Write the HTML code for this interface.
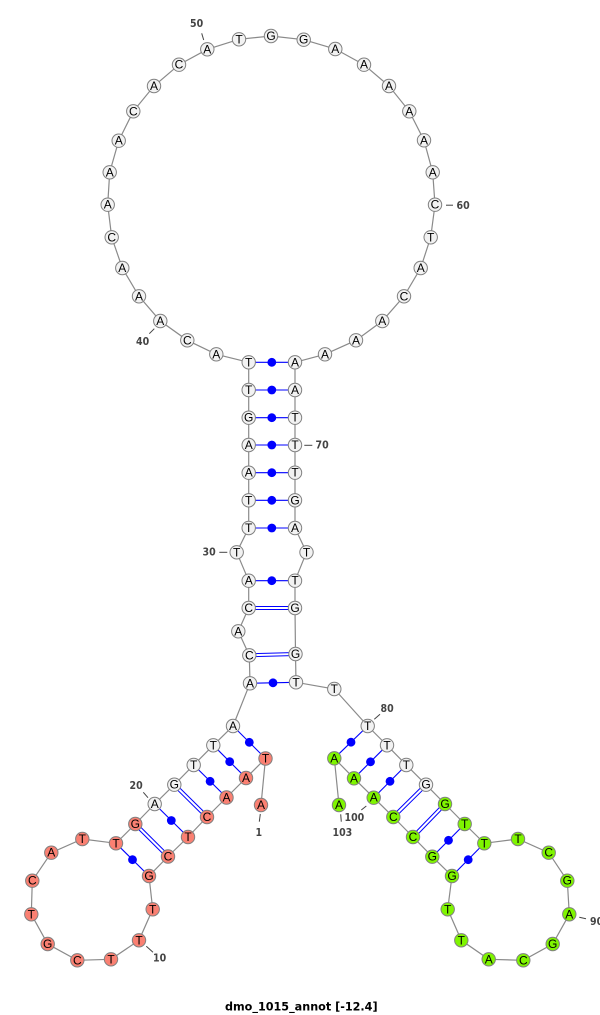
<!DOCTYPE html>
<html>
<head>
<meta charset="utf-8">
<style>
html,body{margin:0;padding:0;background:#fff;width:600px;height:1015px;overflow:hidden}
svg{display:block}
.b{fill:none;stroke:#8a8a8a;stroke-width:1.2}
.p{stroke:#0000ff;stroke-width:1.1;fill:none}
.d{stroke:#0000ff;stroke-width:1;fill:none}
.dot{fill:#0000ff}
.n circle{stroke:#808080;stroke-width:1}
.w circle{fill:#f2f2f2}
.r circle{fill:#fa8072}
.g circle{fill:#7ff500}
.n text{font-family:"Liberation Sans",sans-serif;font-size:12px;fill:#000;text-anchor:middle}
.t{stroke:#444;stroke-width:1;fill:none}
.l{font-family:"DejaVu Sans Condensed","DejaVu Sans",sans-serif;font-weight:bold;font-size:10.5px;fill:#444}
.title{font-family:"DejaVu Sans",sans-serif;font-weight:bold;font-size:11.2px;fill:#000}
</style>
</head>
<body>
<svg width="600" height="1015" viewBox="0 0 600 1015" xmlns="http://www.w3.org/2000/svg">
<polyline class="b" points="261,805 265.5,758.5 246,778 226.5,797.5 207,817 188,837 168,856.5 149,876 152.7,909.3 139,940.3 111,959.3 77.3,960.3 47.7,944 31.3,914.3 32.3,880.7 51.3,852.7 82.3,839 116,843.3 135.3,824 154.7,804 174.3,784.7 193.7,765 213.3,745.3 233,726 250,683.3 249.3,655.3 238.3,631.3 248.7,608 248.7,580.7 236.7,552.3 248.7,528 248.7,500.3 248.7,472.7 248.7,445 248.7,417.7 248.7,390 248.7,362.3 216.3,354.3 187.3,340.3 160.3,321 139,296.3 122.3,268 111.7,237.3 107.7,204.7 109.7,172.3 118.7,140.7 133.3,111.3 154,86 179,64.7 207.3,49.3 239,39.3 271,36 303.7,39.7 335.3,49 364,64.7 389,86 409.3,111.3 424,140.3 432.7,172.3 435,204.7 430.7,237.3 420.7,268 404,296.3 382.3,321 356,340.3 325,354.3 295,362.3 295,390 295,417.7 295,445 295,472.7 295,500.3 295,528 306.5,552.3 295,580.7 295,608 295.5,654 296,682.3 334.3,689 367.7,726 387,745.3 406.3,765 426,784.7 445,804 464.7,824 484.3,843.3 518,839 548.7,852.7 567.3,880.7 569.3,914.3 552.7,944 523.3,960.3 488.7,959.3 461.3,940.3 447.7,909.3 452,876 432.3,856.7 413,837 393.3,817 373.7,797.7 354,778.3 334.3,758.3 339,805"/>

<!-- single pairs -->
<g class="p">
<line x1="265.5" y1="758.5" x2="233" y2="726"/>
<line x1="246" y1="778" x2="213.3" y2="745.3"/>
<line x1="226.5" y1="797.5" x2="193.7" y2="765"/>
<line x1="188" y1="837" x2="154.7" y2="804"/>
<line x1="149" y1="876" x2="116" y2="843.3"/>
<line x1="250" y1="683.3" x2="296" y2="682.3"/>
<line x1="248.7" y1="580.7" x2="295" y2="580.7"/>
<line x1="248.7" y1="528" x2="295" y2="528"/>
<line x1="248.7" y1="500.3" x2="295" y2="500.3"/>
<line x1="248.7" y1="472.7" x2="295" y2="472.7"/>
<line x1="248.7" y1="445" x2="295" y2="445"/>
<line x1="248.7" y1="417.7" x2="295" y2="417.7"/>
<line x1="248.7" y1="390" x2="295" y2="390"/>
<line x1="248.7" y1="362.3" x2="295" y2="362.3"/>
<line x1="367.7" y1="726" x2="334.3" y2="758.3"/>
<line x1="387" y1="745.3" x2="354" y2="778.3"/>
<line x1="406.3" y1="765" x2="373.7" y2="797.7"/>
<line x1="464.7" y1="824" x2="432.3" y2="856.7"/>
<line x1="484.3" y1="843.3" x2="452" y2="876"/>
</g>
<!-- double pairs -->
<g class="d">
<line x1="208.1" y1="815.9" x2="175.4" y2="783.6"/>
<line x1="205.9" y1="818.1" x2="173.2" y2="785.8"/>
<line x1="169.1" y1="855.4" x2="136.4" y2="822.9"/>
<line x1="166.9" y1="857.6" x2="134.2" y2="825.1"/>
<line x1="249.3" y1="653.8" x2="295.5" y2="652.5"/>
<line x1="249.3" y1="656.8" x2="295.5" y2="655.5"/>
<line x1="248.7" y1="606.5" x2="295" y2="606.5"/>
<line x1="248.7" y1="609.5" x2="295" y2="609.5"/>
<line x1="394.4" y1="818.1" x2="427.1" y2="785.8"/>
<line x1="392.2" y1="815.9" x2="424.9" y2="783.6"/>
<line x1="414.1" y1="838.1" x2="446.1" y2="805.1"/>
<line x1="411.9" y1="835.9" x2="443.9" y2="802.9"/>
</g>
<g class="dot">
<circle cx="249.3" cy="742.3" r="4.4"/>
<circle cx="229.7" cy="761.7" r="4.4"/>
<circle cx="210.1" cy="781.3" r="4.4"/>
<circle cx="171.3" cy="820.5" r="4.4"/>
<circle cx="132.5" cy="859.7" r="4.4"/>
<circle cx="273" cy="682.8" r="4.4"/>
<circle cx="271.8" cy="580.7" r="4.4"/>
<circle cx="271.8" cy="528" r="4.4"/>
<circle cx="271.8" cy="500.3" r="4.4"/>
<circle cx="271.8" cy="472.7" r="4.4"/>
<circle cx="271.8" cy="445" r="4.4"/>
<circle cx="271.8" cy="417.7" r="4.4"/>
<circle cx="271.8" cy="390" r="4.4"/>
<circle cx="271.8" cy="362.3" r="4.4"/>
<circle cx="351" cy="742.2" r="4.4"/>
<circle cx="370.5" cy="761.8" r="4.4"/>
<circle cx="390" cy="781.3" r="4.4"/>
<circle cx="448.5" cy="840.3" r="4.4"/>
<circle cx="468.2" cy="859.7" r="4.4"/>
</g>

<!-- red nodes -->
<g class="n r">
<circle cx="261" cy="805" r="6.7"/><text x="261" y="809">A</text>
<circle cx="265.5" cy="758.5" r="6.7"/><text x="265.5" y="762.5">T</text>
<circle cx="246" cy="778" r="6.7"/><text x="246" y="782">A</text>
<circle cx="226.5" cy="797.5" r="6.7"/><text x="226.5" y="801.5">A</text>
<circle cx="207" cy="817" r="6.7"/><text x="207" y="821">C</text>
<circle cx="188" cy="837" r="6.7"/><text x="188" y="841">T</text>
<circle cx="168" cy="856.5" r="6.7"/><text x="168" y="860.5">C</text>
<circle cx="149" cy="876" r="6.7"/><text x="149" y="880">G</text>
<circle cx="152.7" cy="909.3" r="6.7"/><text x="152.7" y="913.3">T</text>
<circle cx="139" cy="940.3" r="6.7"/><text x="139" y="944.3">T</text>
<circle cx="111" cy="959.3" r="6.7"/><text x="111" y="963.3">T</text>
<circle cx="77.3" cy="960.3" r="6.7"/><text x="77.3" y="964.3">C</text>
<circle cx="47.7" cy="944" r="6.7"/><text x="47.7" y="948">G</text>
<circle cx="31.3" cy="914.3" r="6.7"/><text x="31.3" y="918.3">T</text>
<circle cx="32.3" cy="880.7" r="6.7"/><text x="32.3" y="884.7">C</text>
<circle cx="51.3" cy="852.7" r="6.7"/><text x="51.3" y="856.7">A</text>
<circle cx="82.3" cy="839" r="6.7"/><text x="82.3" y="843">T</text>
<circle cx="116" cy="843.3" r="6.7"/><text x="116" y="847.3">T</text>
<circle cx="135.3" cy="824" r="6.7"/><text x="135.3" y="828">G</text>
</g>

<!-- white nodes -->
<g class="n w">
<circle cx="154.7" cy="804" r="6.7"/><text x="154.7" y="808">A</text>
<circle cx="174.3" cy="784.7" r="6.7"/><text x="174.3" y="788.7">G</text>
<circle cx="193.7" cy="765" r="6.7"/><text x="193.7" y="769">T</text>
<circle cx="213.3" cy="745.3" r="6.7"/><text x="213.3" y="749.3">T</text>
<circle cx="233" cy="726" r="6.7"/><text x="233" y="730">A</text>
<circle cx="250" cy="683.3" r="6.7"/><text x="250" y="687.3">A</text>
<circle cx="249.3" cy="655.3" r="6.7"/><text x="249.3" y="659.3">C</text>
<circle cx="238.3" cy="631.3" r="6.7"/><text x="238.3" y="635.3">A</text>
<circle cx="248.7" cy="608" r="6.7"/><text x="248.7" y="612">C</text>
<circle cx="248.7" cy="580.7" r="6.7"/><text x="248.7" y="584.7">A</text>
<circle cx="236.7" cy="552.3" r="6.7"/><text x="236.7" y="556.3">T</text>
<circle cx="248.7" cy="528" r="6.7"/><text x="248.7" y="532">T</text>
<circle cx="248.7" cy="500.3" r="6.7"/><text x="248.7" y="504.3">T</text>
<circle cx="248.7" cy="472.7" r="6.7"/><text x="248.7" y="476.7">A</text>
<circle cx="248.7" cy="445" r="6.7"/><text x="248.7" y="449">A</text>
<circle cx="248.7" cy="417.7" r="6.7"/><text x="248.7" y="421.7">G</text>
<circle cx="248.7" cy="390" r="6.7"/><text x="248.7" y="394">T</text>
<circle cx="248.7" cy="362.3" r="6.7"/><text x="248.7" y="366.3">T</text>
<circle cx="216.3" cy="354.3" r="6.7"/><text x="216.3" y="358.3">A</text>
<circle cx="187.3" cy="340.3" r="6.7"/><text x="187.3" y="344.3">C</text>
<circle cx="160.3" cy="321" r="6.7"/><text x="160.3" y="325">A</text>
<circle cx="139" cy="296.3" r="6.7"/><text x="139" y="300.3">A</text>
<circle cx="122.3" cy="268" r="6.7"/><text x="122.3" y="272">A</text>
<circle cx="111.7" cy="237.3" r="6.7"/><text x="111.7" y="241.3">C</text>
<circle cx="107.7" cy="204.7" r="6.7"/><text x="107.7" y="208.7">A</text>
<circle cx="109.7" cy="172.3" r="6.7"/><text x="109.7" y="176.3">A</text>
<circle cx="118.7" cy="140.7" r="6.7"/><text x="118.7" y="144.7">A</text>
<circle cx="133.3" cy="111.3" r="6.7"/><text x="133.3" y="115.3">C</text>
<circle cx="154" cy="86" r="6.7"/><text x="154" y="90">A</text>
<circle cx="179" cy="64.7" r="6.7"/><text x="179" y="68.7">C</text>
<circle cx="207.3" cy="49.3" r="6.7"/><text x="207.3" y="53.3">A</text>
<circle cx="239" cy="39.3" r="6.7"/><text x="239" y="43.3">T</text>
<circle cx="271" cy="36" r="6.7"/><text x="271" y="40">G</text>
<circle cx="303.7" cy="39.7" r="6.7"/><text x="303.7" y="43.7">G</text>
<circle cx="335.3" cy="49" r="6.7"/><text x="335.3" y="53">A</text>
<circle cx="364" cy="64.7" r="6.7"/><text x="364" y="68.7">A</text>
<circle cx="389" cy="86" r="6.7"/><text x="389" y="90">A</text>
<circle cx="409.3" cy="111.3" r="6.7"/><text x="409.3" y="115.3">A</text>
<circle cx="424" cy="140.3" r="6.7"/><text x="424" y="144.3">A</text>
<circle cx="432.7" cy="172.3" r="6.7"/><text x="432.7" y="176.3">A</text>
<circle cx="435" cy="204.7" r="6.7"/><text x="435" y="208.7">C</text>
<circle cx="430.7" cy="237.3" r="6.7"/><text x="430.7" y="241.3">T</text>
<circle cx="420.7" cy="268" r="6.7"/><text x="420.7" y="272">A</text>
<circle cx="404" cy="296.3" r="6.7"/><text x="404" y="300.3">C</text>
<circle cx="382.3" cy="321" r="6.7"/><text x="382.3" y="325">A</text>
<circle cx="356" cy="340.3" r="6.7"/><text x="356" y="344.3">A</text>
<circle cx="325" cy="354.3" r="6.7"/><text x="325" y="358.3">A</text>
<circle cx="295" cy="362.3" r="6.7"/><text x="295" y="366.3">A</text>
<circle cx="295" cy="390" r="6.7"/><text x="295" y="394">A</text>
<circle cx="295" cy="417.7" r="6.7"/><text x="295" y="421.7">T</text>
<circle cx="295" cy="445" r="6.7"/><text x="295" y="449">T</text>
<circle cx="295" cy="472.7" r="6.7"/><text x="295" y="476.7">T</text>
<circle cx="295" cy="500.3" r="6.7"/><text x="295" y="504.3">G</text>
<circle cx="295" cy="528" r="6.7"/><text x="295" y="532">A</text>
<circle cx="306.5" cy="552.3" r="6.7"/><text x="306.5" y="556.3">T</text>
<circle cx="295" cy="580.7" r="6.7"/><text x="295" y="584.7">T</text>
<circle cx="295" cy="608" r="6.7"/><text x="295" y="612">G</text>
<circle cx="295.5" cy="654" r="6.7"/><text x="295.5" y="658">G</text>
<circle cx="296" cy="682.3" r="6.7"/><text x="296" y="686.3">T</text>
<circle cx="334.3" cy="689" r="6.7"/><text x="334.3" y="693">T</text>
<circle cx="367.7" cy="726" r="6.7"/><text x="367.7" y="730">T</text>
<circle cx="387" cy="745.3" r="6.7"/><text x="387" y="749.3">T</text>
<circle cx="406.3" cy="765" r="6.7"/><text x="406.3" y="769">T</text>
<circle cx="426" cy="784.7" r="6.7"/><text x="426" y="788.7">G</text>
</g>

<!-- green nodes -->
<g class="n g">
<circle cx="445" cy="804" r="6.7"/><text x="445" y="808">G</text>
<circle cx="464.7" cy="824" r="6.7"/><text x="464.7" y="828">T</text>
<circle cx="484.3" cy="843.3" r="6.7"/><text x="484.3" y="847.3">T</text>
<circle cx="518" cy="839" r="6.7"/><text x="518" y="843">T</text>
<circle cx="548.7" cy="852.7" r="6.7"/><text x="548.7" y="856.7">C</text>
<circle cx="567.3" cy="880.7" r="6.7"/><text x="567.3" y="884.7">G</text>
<circle cx="569.3" cy="914.3" r="6.7"/><text x="569.3" y="918.3">A</text>
<circle cx="552.7" cy="944" r="6.7"/><text x="552.7" y="948">G</text>
<circle cx="523.3" cy="960.3" r="6.7"/><text x="523.3" y="964.3">C</text>
<circle cx="488.7" cy="959.3" r="6.7"/><text x="488.7" y="963.3">A</text>
<circle cx="461.3" cy="940.3" r="6.7"/><text x="461.3" y="944.3">T</text>
<circle cx="447.7" cy="909.3" r="6.7"/><text x="447.7" y="913.3">T</text>
<circle cx="452" cy="876" r="6.7"/><text x="452" y="880">G</text>
<circle cx="432.3" cy="856.7" r="6.7"/><text x="432.3" y="860.7">G</text>
<circle cx="413" cy="837" r="6.7"/><text x="413" y="841">C</text>
<circle cx="393.3" cy="817" r="6.7"/><text x="393.3" y="821">C</text>
<circle cx="373.7" cy="797.7" r="6.7"/><text x="373.7" y="801.7">A</text>
<circle cx="354" cy="778.3" r="6.7"/><text x="354" y="782.3">A</text>
<circle cx="334.3" cy="758.3" r="6.7"/><text x="334.3" y="762.3">A</text>
<circle cx="339" cy="805" r="6.7"/><text x="339" y="809">A</text>
</g>

<!-- annotation ticks -->
<g class="t">
<line x1="201.7" y1="33.3" x2="203.7" y2="40"/>
<line x1="446" y1="205.2" x2="453" y2="205.2"/>
<line x1="154.3" y1="328.7" x2="149.3" y2="333.7"/>
<line x1="219.3" y1="552.3" x2="227.3" y2="552.3"/>
<line x1="304.3" y1="445.3" x2="312.3" y2="445.3"/>
<line x1="143.3" y1="792.3" x2="148" y2="797.7"/>
<line x1="260.3" y1="814" x2="259.3" y2="821.7"/>
<line x1="146.3" y1="946.3" x2="153" y2="952.3"/>
<line x1="380" y1="714.3" x2="374.3" y2="719.3"/>
<line x1="366.3" y1="806" x2="361.3" y2="810"/>
<line x1="340.7" y1="814.3" x2="341.3" y2="821.7"/>
<line x1="579.3" y1="917.3" x2="586" y2="918.7"/>
</g>
<g class="l">
<text x="190" y="27">50</text>
<text x="456.5" y="209">60</text>
<text x="136" y="345">40</text>
<text x="202.5" y="555.7">30</text>
<text x="315.5" y="448.7">70</text>
<text x="129.5" y="789">20</text>
<text x="255.5" y="836">1</text>
<text x="153" y="961.7">10</text>
<text x="380.5" y="712">80</text>
<text x="344.5" y="821">100</text>
<text x="332.5" y="836">103</text>
<text x="590" y="925">90</text>
</g>
<text class="title" x="225" y="1010.5">dmo_1015_annot [-12.4]</text>
</svg>
</body>
</html>
